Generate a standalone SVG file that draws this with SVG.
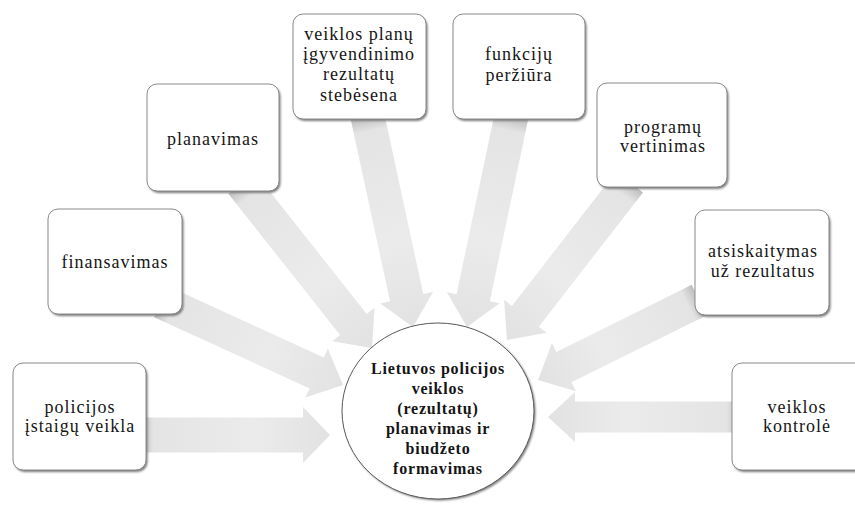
<svg xmlns="http://www.w3.org/2000/svg" width="855" height="509" viewBox="0 0 855 509">
  <defs>
    <style>
      .box { fill: #ffffff; stroke: #8a8a8a; stroke-width: 1; }
      .shadow { fill: #7a7a7a; filter: url(#soft); }
      .arrow { fill: url(#arrowFill); }
      .lbl { font-family: "Liberation Serif", "Times New Roman", serif; font-size: 18px; letter-spacing: 1px; fill: #151515; text-anchor: middle; }
      .hub { font-family: "Liberation Serif", "Times New Roman", serif; font-size: 16px; font-weight: bold; letter-spacing: 0.8px; fill: #151515; text-anchor: middle; }
    </style>
    <filter id="soft" x="-10%" y="-10%" width="120%" height="120%">
      <feGaussianBlur stdDeviation="1"/>
    </filter>
    <linearGradient id="arrowFill" x1="0" y1="0" x2="1" y2="0">
      <stop offset="0" stop-color="#bdbdbd"/>
      <stop offset="0.07" stop-color="#e4e4e4"/>
      <stop offset="0.6" stop-color="#ebebeb"/>
      <stop offset="1" stop-color="#e2e2e2"/>
    </linearGradient>
  </defs>

  <rect width="855" height="509" fill="#ffffff"/>

  <!-- block arrows, each drawn pointing along +x with its tip at the origin -->
  <g id="connectors">
    <path class="arrow" transform="translate(330,435)" d="M-190,-17.5 L-27,-17.5 L-27,-28 L0,0 L-27,28 L-27,17.5 L-190,17.5 Z"/>
    <path class="arrow" transform="translate(343,385) rotate(24.6)" d="M-200,-17 L-29,-17 L-29,-27 L0,0 L-29,27 L-29,17 L-200,17 Z"/>
    <path class="arrow" transform="translate(372,348) rotate(51.65)" d="M-210,-17 L-30,-17 L-30,-27 L0,0 L-30,27 L-30,17 L-210,17 Z"/>
    <path class="arrow" transform="translate(413,327) rotate(77.8)" d="M-216,-17 L-30,-17 L-30,-27 L0,0 L-30,27 L-30,17 L-216,17 Z"/>
    <path class="arrow" transform="translate(467,327) rotate(101.9)" d="M-216,-17 L-30,-17 L-30,-27 L0,0 L-30,27 L-30,17 L-216,17 Z"/>
    <path class="arrow" transform="translate(507,340) rotate(127.8)" d="M-200,-17 L-30,-17 L-30,-27 L0,0 L-30,27 L-30,17 L-200,17 Z"/>
    <path class="arrow" transform="translate(538,380) rotate(153.6)" d="M-180,-17 L-29,-17 L-29,-27 L0,0 L-29,27 L-29,17 L-180,17 Z"/>
    <path class="arrow" transform="translate(548,417) rotate(180)" d="M-192,-15.5 L-27,-15.5 L-27,-25 L0,0 L-27,25 L-27,15.5 L-192,15.5 Z"/>
  </g>

  <!-- central node -->
  <g id="hub">
    <ellipse cx="439.5" cy="412.5" rx="96" ry="88" class="shadow"/>
    <ellipse cx="438" cy="411" rx="96" ry="88" fill="#ffffff" stroke="#5a5a5a" stroke-width="1"/>
    <text class="hub" x="438" y="374">Lietuvos policijos</text>
    <text class="hub" x="438" y="394">veiklos</text>
    <text class="hub" x="438" y="414">(rezultatų)</text>
    <text class="hub" x="438" y="434">planavimas ir</text>
    <text class="hub" x="438" y="454">biudžeto</text>
    <text class="hub" x="438" y="474">formavimas</text>
  </g>

  <g id="node-policijos">
    <rect x="14.5" y="365" width="133" height="107" rx="10" class="shadow"/>
    <rect x="13" y="363" width="133" height="107" rx="10" class="box"/>
    <text class="lbl" x="80" y="413">policijos</text>
    <text class="lbl" x="80" y="432">įstaigų veikla</text>
  </g>

  <g id="node-finansavimas">
    <rect x="49.5" y="211" width="134" height="105" rx="10" class="shadow"/>
    <rect x="48" y="209" width="134" height="105" rx="10" class="box"/>
    <text class="lbl" x="115" y="268">finansavimas</text>
  </g>

  <g id="node-planavimas">
    <rect x="148.5" y="86" width="132" height="107" rx="10" class="shadow"/>
    <rect x="147" y="84" width="132" height="107" rx="10" class="box"/>
    <text class="lbl" x="213" y="145">planavimas</text>
  </g>

  <g id="node-stebesena">
    <rect x="294.5" y="16" width="133" height="105" rx="10" class="shadow"/>
    <rect x="293" y="14" width="133" height="105" rx="10" class="box"/>
    <text class="lbl" x="359" y="40">veiklos planų</text>
    <text class="lbl" x="359" y="60">įgyvendinimo</text>
    <text class="lbl" x="359" y="80">rezultatų</text>
    <text class="lbl" x="359" y="101">stebėsena</text>
  </g>

  <g id="node-funkciju">
    <rect x="454.5" y="16" width="132" height="105" rx="10" class="shadow"/>
    <rect x="453" y="14" width="132" height="105" rx="10" class="box"/>
    <text class="lbl" x="519" y="60">funkcijų</text>
    <text class="lbl" x="519" y="81">peržiūra</text>
  </g>

  <g id="node-programu">
    <rect x="598.5" y="85" width="130" height="104" rx="10" class="shadow"/>
    <rect x="597" y="83" width="130" height="104" rx="10" class="box"/>
    <text class="lbl" x="663" y="133">programų</text>
    <text class="lbl" x="663" y="152">vertinimas</text>
  </g>

  <g id="node-atsiskaitymas">
    <rect x="696.5" y="212" width="134" height="105" rx="10" class="shadow"/>
    <rect x="695" y="210" width="134" height="105" rx="10" class="box"/>
    <text class="lbl" x="763" y="257">atsiskaitymas</text>
    <text class="lbl" x="763" y="277">už rezultatus</text>
  </g>

  <g id="node-kontrole">
    <rect x="733.5" y="365" width="140" height="107" rx="10" class="shadow"/>
    <rect x="732" y="363" width="140" height="107" rx="10" class="box"/>
    <text class="lbl" x="797" y="413">veiklos</text>
    <text class="lbl" x="797" y="432">kontrolė</text>
  </g>
</svg>
